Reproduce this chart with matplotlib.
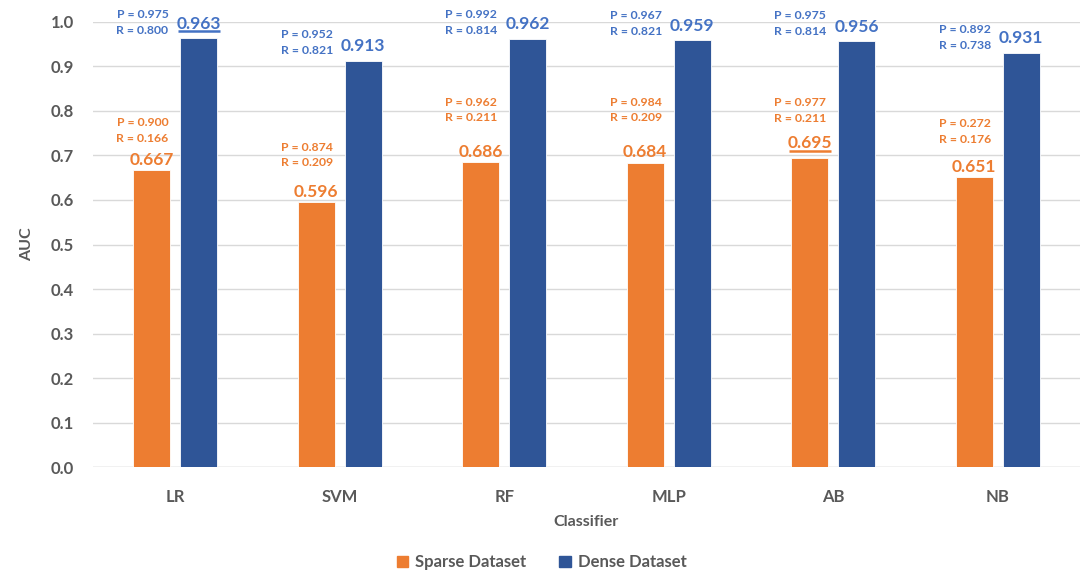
import numpy as np
import matplotlib.pyplot as plt
from matplotlib.patches import Patch

plt.rcParams['font.family'] = ['Lato', 'DejaVu Sans']
plt.rcParams['font.weight'] = 'bold'
plt.rcParams['axes.labelweight'] = 'bold'

# AUC per classifier, with precision / recall for each dataset
classifiers = ['LR', 'SVM', 'RF', 'MLP', 'AB', 'NB']
sparse_auc = [0.667, 0.596, 0.686, 0.684, 0.695, 0.651]
dense_auc = [0.963, 0.913, 0.962, 0.959, 0.956, 0.931]
sparse_p = [0.900, 0.874, 0.962, 0.984, 0.977, 0.272]
sparse_r = [0.166, 0.209, 0.211, 0.209, 0.211, 0.176]
dense_p = [0.975, 0.952, 0.992, 0.967, 0.975, 0.892]
dense_r = [0.800, 0.821, 0.814, 0.821, 0.814, 0.738]

# where the P/R boxes sit (data y, centre of the two lines)
sparse_pr_y = [0.757, 0.701, 0.802, 0.802, 0.800, 0.753]
dense_pr_y = [0.999, 0.954, 0.999, 0.997, 0.997, 0.965]

orange = '#ED7D31'
blue = '#2F5597'
blue_txt = '#4472C4'
grey = '#595959'

fig = plt.figure(figsize=(10.83, 5.74), dpi=100)
ax = fig.add_axes([0.086, 0.186, 0.911, 0.776])

x = np.arange(len(classifiers))
w = 0.225
off = 0.143
bs = ax.bar(x - off, sparse_auc, w, color=orange, edgecolor='white', linewidth=0.6, zorder=3)
bd = ax.bar(x + off, dense_auc, w, color=blue, edgecolor='white', linewidth=0.6, zorder=3)

best_sparse = int(np.argmax(sparse_auc))
best_dense = int(np.argmax(dense_auc))

for i in range(len(classifiers)):
    for xc, v, col, best, pad in [(x[i] - off, sparse_auc[i], orange, i == best_sparse, 1.5),
                                  (x[i] + off, dense_auc[i], blue_txt, i == best_dense, 4.5)]:
        if best:
            pad = 4.5
            ax.plot([xc - 0.128, xc + 0.128], [v + 0.016, v + 0.016], color=col,
                    lw=1.8, solid_capstyle='butt', clip_on=False, zorder=4)
        ax.annotate(f'{v:.3f}', (xc, v), xytext=(0, pad), textcoords='offset points',
                    ha='center', va='bottom', fontsize=12.5, color=col, fontweight='bold')
    ax.text(x[i] - 0.2, sparse_pr_y[i], f'P = {sparse_p[i]:.3f}\nR = {sparse_r[i]:.3f}',
            ha='center', va='center', fontsize=8.8, color=orange, fontweight='bold',
            linespacing=1.55)
    ax.text(x[i] - 0.2, dense_pr_y[i], f'P = {dense_p[i]:.3f}\nR = {dense_r[i]:.3f}',
            ha='center', va='center', fontsize=8.8, color=blue_txt, fontweight='bold',
            linespacing=1.55)

ax.set_xlim(-0.5, len(classifiers) - 0.5)
ax.set_ylim(0, 1.0)
ax.set_yticks(np.arange(0, 1.01, 0.1))
ax.set_yticklabels([f'{t:.1f}' for t in np.arange(0, 1.01, 0.1)])
ax.set_xticks(x)
ax.set_xticklabels(classifiers)
ax.tick_params(axis='both', length=0, labelsize=12, labelcolor=grey)
ax.tick_params(axis='x', pad=16)
ax.tick_params(axis='y', pad=14)
ax.grid(axis='y', color='#D9D9D9', lw=1, zorder=0)
for s in ax.spines.values():
    s.set_visible(False)
ax.axhline(0, color='#D9D9D9', lw=1, zorder=1)

ax.set_xlabel('Classifier', fontsize=11.5, color=grey, labelpad=7)
ax.set_ylabel('AUC', fontsize=11.5, color=grey, labelpad=12)

handles = [Patch(color=orange, label='Sparse Dataset'), Patch(color=blue, label='Dense Dataset')]
fig.legend(handles=handles, loc='lower center', bbox_to_anchor=(0.5, -0.02), ncol=2,
           frameon=False, fontsize=12, labelcolor=grey, handlelength=0.7, handleheight=0.7,
           handletextpad=0.4, columnspacing=2.0)

fig.savefig('out.png', dpi=100, facecolor='white')
